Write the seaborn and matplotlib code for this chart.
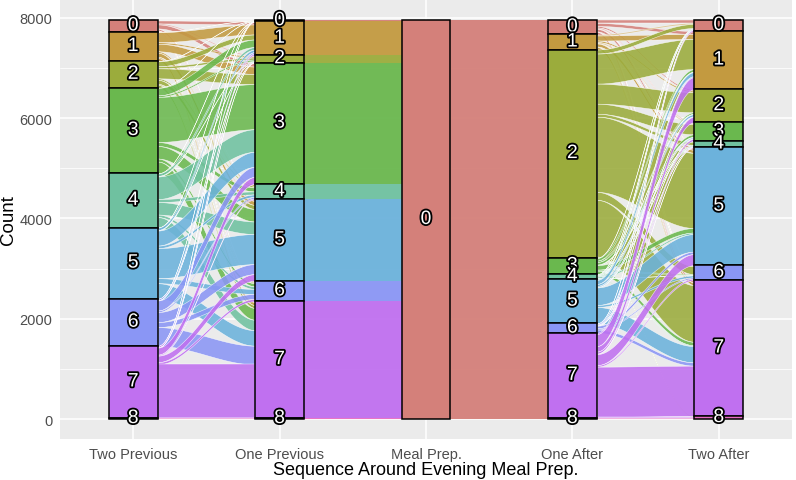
import numpy as np
import matplotlib
matplotlib.use("Agg")
import matplotlib.pyplot as plt
import matplotlib.patheffects as pe
import seaborn as sns

# ---------------- data ----------------
axis_names = ["Two Previous", "One Previous", "Meal Prep.", "One After", "Two After"]
states = ["0", "1", "2", "3", "4", "5", "6", "7", "8"]
state_colors = ["#D4807A", "#C39A40", "#9BAC3C", "#6AB84E", "#6FC1A0",
                "#6CB2DC", "#8A96F5", "#C070F0", "#E86EC4"]

# transitions Two Previous (rows) -> One Previous (cols)
two_prev_to_one_prev = [
    [10, 60, 20, 80, 10, 30, 10, 20, 0],
    [5, 200, 30, 150, 30, 80, 25, 60, 0],
    [5, 100, 40, 200, 30, 80, 20, 55, 0],
    [5, 150, 30, 900, 80, 250, 60, 235, 0],
    [2, 50, 10, 450, 60, 250, 50, 208, 0],
    [1, 50, 10, 300, 50, 600, 100, 309, 0],
    [1, 30, 5, 200, 30, 200, 100, 374, 0],
    [1, 30, 5, 140, 20, 130, 45, 1069, 0],
    [0, 0, 0, 0, 0, 0, 0, 0, 20],
]
# transitions One After (rows) -> Two After (cols)
one_after_to_two_after = [
    [60, 60, 30, 20, 10, 50, 10, 50, 0],
    [20, 100, 30, 20, 10, 60, 10, 50, 0],
    [80, 600, 400, 200, 60, 1500, 160, 1130, 20],
    [10, 50, 30, 50, 10, 90, 20, 70, 0],
    [5, 10, 10, 10, 15, 30, 5, 15, 0],
    [15, 80, 40, 20, 10, 350, 40, 325, 0],
    [5, 20, 10, 10, 5, 50, 25, 65, 0],
    [25, 240, 110, 40, 10, 220, 30, 1005, 20],
    [0, 0, 0, 0, 0, 0, 0, 0, 20],
]

# ---------------- derived matrices ----------------
M1 = np.array(two_prev_to_one_prev, dtype=float)
M4 = np.array(one_after_to_two_after, dtype=float)
n = len(states)
one_prev_counts = M1.sum(axis=0)
one_after_counts = M4.sum(axis=1)
M2 = np.zeros((n, n)); M2[:, 0] = one_prev_counts      # One Previous -> Meal Prep.
M3 = np.zeros((n, n)); M3[0, :] = one_after_counts     # Meal Prep. -> One After
transitions = [M1, M2, M3, M4]
axis_counts = [M1.sum(axis=1), M1.sum(axis=0), M2.sum(axis=0), M4.sum(axis=1), M4.sum(axis=0)]
total = axis_counts[0].sum()

# ---------------- style ----------------
sns.set_theme(style="darkgrid", rc={
    "axes.facecolor": "#EBEBEB",
    "grid.color": "white",
    "axes.edgecolor": "#EBEBEB",
})
plt.rcParams['font.family'] = ['Liberation Sans', 'DejaVu Sans']

fig = plt.figure(figsize=(7.96, 4.81), dpi=100)
ax = fig.add_axes([60 / 796, 1 - 440 / 481, 732 / 796, 439 / 481])

width = 1 / 3


def tops(counts):
    c = np.asarray(counts)
    return total - np.concatenate([[0], np.cumsum(c)[:-1]])


t = np.linspace(0, 1, 80)
s = t * t * (3 - 2 * t)

# flows
for i, M in enumerate(transitions):
    xa = i + 1 + width / 2
    xb = i + 2 - width / 2
    left_top = tops(axis_counts[i]).copy()
    right_top = tops(axis_counts[i + 1]).copy()
    lpos = {}
    for a in range(n):
        y = left_top[a]
        for b in range(n):
            lpos[(a, b)] = y
            y -= M[a, b]
    rpos = {}
    for b in range(n):
        y = right_top[b]
        for a in range(n):
            rpos[(a, b)] = y
            y -= M[a, b]
    crossing = i in (0, 3)
    for a in range(n):
        for b in range(n):
            v = M[a, b]
            if v <= 0:
                continue
            y0 = lpos[(a, b)]
            y1 = rpos[(a, b)]
            xs = xa + (xb - xa) * t
            top_curve = y0 + (y1 - y0) * s
            ax.fill_between(xs, top_curve - v, top_curve, facecolor=state_colors[a],
                            alpha=0.88 if crossing else 0.95,
                            edgecolor=(1, 1, 1, 0.22) if crossing else "none",
                            linewidth=0.35, zorder=2)

# strata
for i, counts in enumerate(axis_counts):
    tp = tops(counts)
    for k in range(n):
        c = counts[k]
        if c <= 0:
            continue
        ax.bar(i + 1, c, bottom=tp[k] - c, width=width, color=state_colors[k],
               edgecolor="black", linewidth=1.1, zorder=3)
    for k in range(n):
        c = counts[k]
        if c <= 0:
            continue
        ax.text(i + 1, tp[k] - c / 2, states[k], ha="center", va="center",
                fontsize=14, color="white", zorder=5,
                path_effects=[pe.Stroke(linewidth=2.6, foreground="black"), pe.Normal()])

ax.set_xlim(0.5, 5.5)
ax.set_ylim(-total * 0.05, total * 1.05)
ax.set_xticks(range(1, 6))
ax.set_xticklabels(axis_names)
ax.set_yticks([0, 2000, 4000, 6000, 8000])
ax.set_yticks([1000, 3000, 5000, 7000], minor=True)
ax.grid(which="major", color="white", linewidth=1.1)
ax.grid(which="minor", axis="y", color="white", linewidth=0.55)
ax.grid(which="minor", axis="x", visible=False)
ax.set_axisbelow(True)
for sp in ax.spines.values():
    sp.set_visible(False)
ax.tick_params(axis="both", which="major", length=3.5, width=0.8, color="#333333",
               labelsize=10.5, labelcolor="#4D4D4D", pad=2)
ax.tick_params(axis="both", which="minor", length=0)
ax.set_xlabel("Sequence Around Evening Meal Prep.", fontsize=13, color="black", labelpad=0)
ax.set_ylabel("Count", fontsize=13.5, color="black")
ax.yaxis.set_label_coords(-43 / 732, 0.5)

fig.savefig("out.png", dpi=100)
